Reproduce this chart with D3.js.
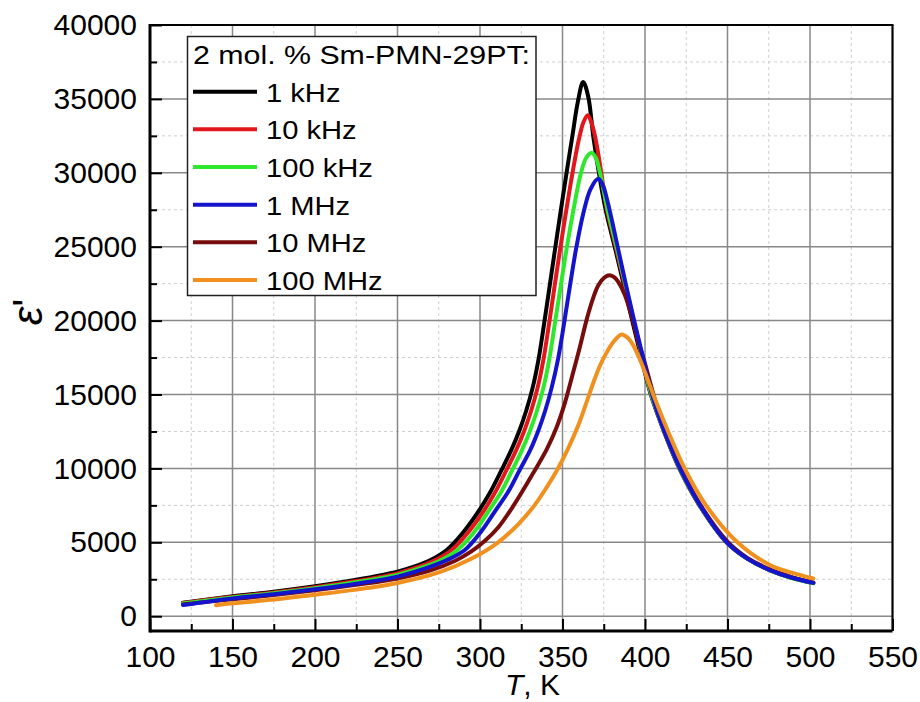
<!DOCTYPE html>
<html><head><meta charset="utf-8">
<script src="https://cdn.jsdelivr.net/npm/d3@7/dist/d3.min.js"></script>
<style>
body{margin:0;background:#fff}
svg text{font-family:Arial,"Liberation Sans",sans-serif;fill:#000}
</style>
</head><body>
<svg id="chart" width="920" height="702"></svg>
<script>
// ---------- data ----------
const seriesNames = ["1 kHz","10 kHz","100 kHz","1 MHz","10 MHz","100 MHz"];
const legendTitle = "2 mol. % Sm-PMN-29PT:";
const xTickValues = [100,150,200,250,300,350,400,450,500,550];
const yTickValues = [0,5000,10000,15000,20000,25000,30000,35000,40000];
const xLabel = "T";
const xUnit = ", K";
const yLabel = "\u03B5";

const T_1kHz = [120,150,175,200,225,250,260,270,280,290,300,306,313,319,324,328,332,335.5,339,342.3,345.7,349.3,352.8,356,359.3,362.5,365.6,368.7,372.5,376.2,382.5,389.5,397.5,403.5,411.5,420.8,433,449.5,462,476,489,502];
const E_1kHz = [920,1350,1660,2030,2470,3020,3350,3800,4500,5700,7250,8350,9880,11250,12600,13900,15500,17400,19900,22400,25000,27700,30250,32500,34800,36150,35150,32430,29700,27470,24600,21300,17600,15000,12500,10000,7500,5000,3900,3100,2600,2250];

const T_10kHz = [120,150,175,200,225,250,263,273,283,293,303,309,316,322,327,331,335,338.5,342,345.3,348.8,352.5,356.3,360,362.8,365.3,367.8,370.3,373.5,376.8,383,390,397.8,403.7,411.7,421,433.1,449.5,462,476,489,502];
const E_10kHz = [890,1310,1600,1960,2380,2900,3350,3800,4500,5700,7250,8350,9880,11250,12600,13900,15500,17400,19900,22400,25000,27600,30150,32300,33450,33900,33300,32150,30000,27600,24650,21350,17700,15000,12500,10000,7500,5000,3900,3100,2600,2250];

const T_100kHz = [120,150,175,200,225,250,266.5,276.5,286.5,296.5,306,312.5,319.5,325.5,330.5,334.5,338.5,342,345.5,349,352.7,356.8,361,364.3,367.7,370.2,372.7,377.4,383.4,390.4,398,403.8,411.8,421,433.2,449.5,462,476,489,502];
const E_100kHz = [860,1270,1560,1900,2300,2800,3350,3800,4500,5700,7250,8350,9880,11250,12600,13900,15500,17400,19900,22400,25000,27600,29900,31000,31350,31000,30000,27470,24700,21380,17700,15000,12500,10000,7500,5000,3900,3100,2580,2230];

const T_1MHz = [120,150,175,200,225,250,270,280,291,300.5,310,317,324,330.5,335.5,339.5,343.5,347.3,350.8,354.3,358.3,362.7,367,371.7,374.5,377,380.5,383.8,388.5,393,398.6,404,408,412,421.2,433.3,449.5,462,476,489,502];
const E_1MHz = [760,1200,1490,1820,2200,2680,3350,3800,4500,5700,7250,8400,9880,11250,12600,13900,15500,17400,19700,22200,24900,27300,28900,29600,29150,28200,26500,24800,22400,20200,17600,15100,13650,12450,10000,7500,5000,3900,3100,2600,2255];

const T_10MHz = [120,150,175,200,225,250,270,285,295,303,311,320.2,333.3,340.5,346.5,351.5,356,360.5,364.6,368.5,371.7,375.5,378.6,381.5,383.8,387.9,392,396.5,400,404.5,412,421.5,433.5,450,462,476,489,502];
const E_10MHz = [800,1150,1430,1750,2120,2550,3100,3750,4400,5100,6000,7460,9880,11300,12800,14450,16300,18200,20050,21500,22400,22930,23070,22930,22620,21700,20250,18400,17100,15250,12500,10050,7550,5050,3950,3150,2650,2280];

const T_100MHz = [140,150,175,200,225,250,276,295,311,323,333,340,347,353,359.5,364.5,369.5,373.5,377.8,381.5,385.9,390,393,396.4,400,405,414,424,437,456,476,489,502];
const E_100MHz = [740,870,1130,1450,1800,2250,3000,3900,5000,6200,7500,8650,9950,11250,12900,14450,16050,17150,18050,18650,19060,18780,18300,17500,16500,15000,12500,10000,7500,5000,3450,2950,2550];

// ---------- styles ----------
const seriesColors = ["#000000","#e2171b","#2de82d","#1414cc","#760c0c","#f0901e"];
const drawOrder = [0,1,2,4,3,5];

// ---------- chart ----------
const svg = d3.select("#chart");
const L = 150, R = 892.5, Tp = 25, B = 631;
const x = d3.scaleLinear().domain([100,550]).range([L,R]);
const y = d3.scaleLinear().domain([-1000,40000]).range([B,Tp]);

const seriesT = [T_1kHz,T_10kHz,T_100kHz,T_1MHz,T_10MHz,T_100MHz];
const seriesE = [E_1kHz,E_10kHz,E_100kHz,E_1MHz,E_10MHz,E_100MHz];
const series = seriesNames.map((n,i)=>({name:n,color:seriesColors[i],
  pts:seriesT[i].map((t,j)=>[t,seriesE[i][j]])}));

const xMinor = d3.range(125,550,50);
const yMinor = d3.range(2500,40000,5000);

// grid
const grid = svg.append("g");
grid.selectAll(".gxm").data(xMinor).join("line")
  .attr("x1",d=>x(d)).attr("x2",d=>x(d)).attr("y1",Tp).attr("y2",B)
  .attr("stroke","#cfcfcf").attr("stroke-width",1).attr("stroke-dasharray","3,3");
grid.selectAll(".gym").data(yMinor).join("line")
  .attr("y1",d=>y(d)).attr("y2",d=>y(d)).attr("x1",L).attr("x2",R)
  .attr("stroke","#cfcfcf").attr("stroke-width",1).attr("stroke-dasharray","3,3");
grid.selectAll(".gx").data(xTickValues.slice(1,-1)).join("line")
  .attr("x1",d=>x(d)).attr("x2",d=>x(d)).attr("y1",Tp).attr("y2",B)
  .attr("stroke","#888").attr("stroke-width",1.5);
grid.selectAll(".gy").data(yTickValues).join("line")
  .attr("y1",d=>y(d)).attr("y2",d=>y(d)).attr("x1",L).attr("x2",R)
  .attr("stroke","#888").attr("stroke-width",1.5);

// curves
const line = d3.line().x(d=>x(d[0])).y(d=>y(d[1])).curve(d3.curveCatmullRom.alpha(0.5));
const curves = svg.append("g").attr("fill","none").attr("stroke-linecap","round").attr("stroke-linejoin","round");
drawOrder.forEach(i=>{
  curves.append("path").attr("d",line(series[i].pts))
    .attr("stroke",series[i].color).attr("stroke-width",4);
});

// axes
const fs = 30;
const xAxis = d3.axisBottom(x).tickValues(xTickValues).tickSizeInner(-12).tickSizeOuter(0).tickPadding(15).tickFormat(d3.format("d"));
const gx = svg.append("g").attr("transform",`translate(0,${B})`).call(xAxis);
const xAxisMinor = d3.axisBottom(x).tickValues(xMinor).tickSizeInner(-7).tickSizeOuter(0).tickFormat("");
const gxm = svg.append("g").attr("transform",`translate(0,${B})`).call(xAxisMinor);
const yAxis = d3.axisLeft(y).tickValues(yTickValues).tickSizeInner(-12).tickSizeOuter(0).tickPadding(13).tickFormat(d3.format("d"));
const gy = svg.append("g").attr("transform",`translate(${L},0)`).call(yAxis);
const yAxisMinor = d3.axisLeft(y).tickValues(yMinor).tickSizeInner(-7).tickSizeOuter(0).tickFormat("");
const gym = svg.append("g").attr("transform",`translate(${L},0)`).call(yAxisMinor);
[gx,gxm,gy,gym].forEach(g=>{
  g.select(".domain").remove();
  g.selectAll(".tick line").attr("stroke","#000").attr("stroke-width",2);
  g.selectAll("text").attr("font-size",fs).attr("font-family","Arial, 'Liberation Sans', sans-serif").attr("fill","#000");
});

// frame
const frame = svg.append("g").attr("stroke","#000").attr("fill","none");
frame.append("line").attr("x1",L).attr("x2",L).attr("y1",Tp-1).attr("y2",B+1.5).attr("stroke-width",3);
frame.append("line").attr("x1",L).attr("x2",R).attr("y1",B).attr("y2",B).attr("stroke-width",3);
frame.append("line").attr("x1",L).attr("x2",R+1).attr("y1",Tp).attr("y2",Tp).attr("stroke-width",2.2);
frame.append("line").attr("x1",R).attr("x2",R).attr("y1",Tp).attr("y2",B).attr("stroke-width",2.2);

// axis titles
const xt = svg.append("text").attr("x",532.5).attr("y",695).attr("text-anchor","middle").attr("font-size",30);
xt.append("tspan").attr("font-style","italic").text(xLabel);
xt.append("tspan").text(xUnit);
const yt = svg.append("text").attr("transform","translate(42,312) rotate(-90)").attr("text-anchor","middle").attr("font-size",42);
yt.append("tspan").attr("font-style","italic").text(yLabel);
yt.append("tspan").text("'");

// legend
const lg = svg.append("g");
lg.append("rect").attr("x",187.5).attr("y",36.5).attr("width",348.5).attr("height",259)
  .attr("fill","#fff").attr("stroke","#222").attr("stroke-width",1.5);
lg.append("text").attr("transform","translate(193,64) scale(1.145,1)").attr("font-size",26.5).text(legendTitle);
seriesNames.forEach((n,i)=>{
  const ly = 91.7 + i*37.65;
  lg.append("line").attr("x1",193).attr("x2",257).attr("y1",ly).attr("y2",ly)
    .attr("stroke",seriesColors[i]).attr("stroke-width",4);
  lg.append("text").attr("transform",`translate(266,${ly+10}) scale(1.1,1)`).attr("font-size",26.5).text(n);
});
</script>
</body></html>
